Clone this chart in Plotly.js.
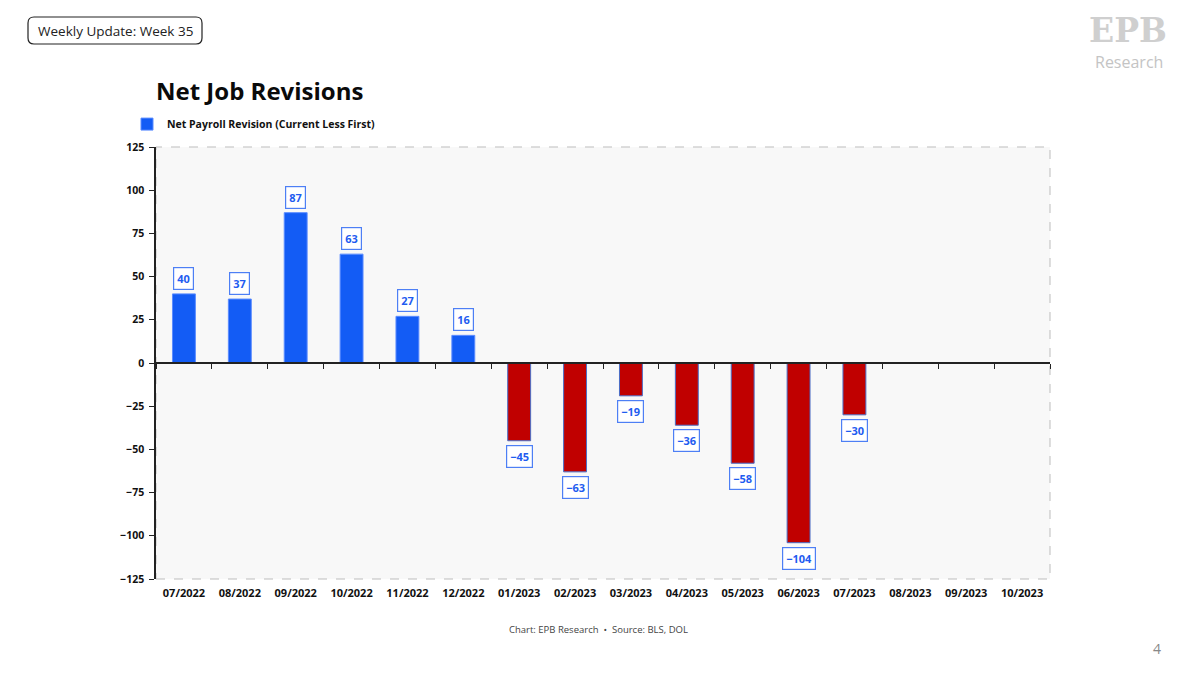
<!DOCTYPE html>
<html>
<head>
<meta charset="utf-8">
<script src="https://cdn.plot.ly/plotly-3.0.1.min.js"></script>
<style>html,body{margin:0;padding:0;background:#fff;}#chart{width:1200px;height:673px;}</style>
</head>
<body>
<div id="chart"></div>
<script>
const months = ["07/2022","08/2022","09/2022","10/2022","11/2022","12/2022","01/2023","02/2023","03/2023","04/2023","05/2023","06/2023","07/2023","08/2023","09/2023","10/2023"];
const revisions = [40, 37, 87, 63, 27, 16, -45, -63, -19, -36, -58, -104, -30, null, null, null];
const yTicks = [125, 100, 75, 50, 25, 0, -25, -50, -75, -100, -125];
const seriesName = "Net Payroll Revision (Current Less First)";

const FONT = "'Open Sans', 'DejaVu Sans', sans-serif";
const BLUE = "#135cf5";
const RED = "#c00000";
const LABEL_BLUE = "#1f5cf0";

const barColors = revisions.map(v => (v !== null && v < 0) ? RED : BLUE);
const barLines = revisions.map(v => (v !== null && v < 0) ? "#4a6fc8" : "#5b8cff");

const bars = {
  type: "bar",
  x: months,
  y: revisions,
  name: seriesName,
  marker: {color: barColors, line: {color: barLines, width: 1}},
  width: 0.41,
  hoverinfo: "x+y",
  showlegend: true
};

// invisible trace to carry the zero-line category axis ticks
const axisCarrier = {
  type: "scatter",
  mode: "markers",
  x: months,
  y: months.map(() => 0),
  xaxis: "x2",
  yaxis: "y",
  marker: {opacity: 0, size: 1},
  hoverinfo: "skip",
  showlegend: false
};

const valueLabels = months.map((m, i) => {
  const v = revisions[i];
  if (v === null) return null;
  const pos = v >= 0;
  return {
    x: m, y: v, xref: "x", yref: "y",
    text: "<b>" + (v < 0 ? "\u2212" + Math.abs(v) : v) + "</b>",
    showarrow: false,
    yanchor: pos ? "bottom" : "top",
    yshift: pos ? 4 : -4,
    font: {family: FONT, size: 11, color: LABEL_BLUE},
    bgcolor: "#ffffff",
    bordercolor: "#4d7ff5",
    borderwidth: 1.2,
    borderpad: 3
  };
}).filter(a => a !== null);

// helper for rounded box in paper coords (style only)
function roundedRect(px0, py0, px1, py1, r) {
  const L = 156, T = 147, W = 894, H = 432;
  const X = p => (p - L) / W;
  const Y = p => (T + H - p) / H;
  const rx = r / W, ry = r / H;
  const x0 = X(px0), x1 = X(px1), y0 = Y(py0), y1 = Y(py1);
  return `M ${x0 + rx},${y0} L ${x1 - rx},${y0} Q ${x1},${y0} ${x1},${y0 - ry} L ${x1},${y1 + ry} Q ${x1},${y1} ${x1 - rx},${y1} L ${x0 + rx},${y1} Q ${x0},${y1} ${x0},${y1 + ry} L ${x0},${y0 - ry} Q ${x0},${y0} ${x0 + rx},${y0} Z`;
}

const layout = {
  width: 1200, height: 673,
  margin: {l: 156, r: 150, t: 147, b: 94},
  paper_bgcolor: "#ffffff",
  plot_bgcolor: "#f8f8f8",
  font: {family: FONT, color: "#111"},
  title: {
    text: "<b>Net Job Revisions</b>",
    font: {family: FONT, size: 24, color: "#0a0a0a"},
    x: 0, xref: "paper", xanchor: "left",
    y: 1 - 92 / 673, yref: "container", yanchor: "middle"
  },
  showlegend: true,
  legend: {
    x: -29 / 894, y: 1.053, xanchor: "left", yanchor: "middle",
    orientation: "h",
    font: {family: FONT, size: 10.5, color: "#111", weight: 700},
    itemwidth: 30,
    bgcolor: "rgba(0,0,0,0)"
  },
  xaxis: {
    type: "category",
    categoryorder: "array",
    categoryarray: months,
    range: [-0.5, 15.5],
    showline: false,
    showgrid: false,
    zeroline: false,
    ticks: "",
    tickfont: {family: FONT, size: 11, color: "#111", weight: 700},
    ticklabelstandoff: 6,
    fixedrange: true
  },
  xaxis2: {
    type: "category",
    categoryorder: "array",
    categoryarray: months,
    range: [-0.5, 15.5],
    overlaying: "x",
    anchor: "free",
    position: 0.5,
    side: "bottom",
    showline: true,
    linecolor: "#222",
    linewidth: 1.5,
    ticks: "outside",
    tickson: "boundaries",
    ticklen: 5,
    tickcolor: "#222",
    tickwidth: 1,
    showticklabels: false,
    showgrid: false,
    zeroline: false,
    fixedrange: true
  },
  yaxis: {
    range: [-125, 125],
    tickvals: yTicks,
    ticktext: yTicks.map(v => v < 0 ? "\u2212" + Math.abs(v) : String(v)),
    showline: true,
    linecolor: "#222",
    linewidth: 1.5,
    ticks: "outside",
    ticklen: 5,
    tickcolor: "#222",
    showgrid: false,
    zeroline: false,
    tickfont: {family: FONT, size: 10.5, color: "#111", weight: 700},
    ticklabelstandoff: 3,
    fixedrange: true
  },
  bargap: 0.59,
  shapes: [
    {type: "rect", xref: "paper", yref: "paper", x0: 0, x1: 1, y0: 0, y1: 1,
     line: {color: "#bdbdbd", width: 1, dash: "dash"}, fillcolor: "rgba(0,0,0,0)", layer: "below"},
    {type: "path", xref: "paper", yref: "paper", path: roundedRect(28, 17, 202, 44, 6),
     line: {color: "#222", width: 1.2}, fillcolor: "#ffffff"}
  ],
  annotations: valueLabels.concat([
    {xref: "paper", yref: "paper", x: (115 - 156) / 894, y: (579 - 30.5) / 432,
     text: "Weekly Update: Week 35", showarrow: false, xanchor: "center", yanchor: "middle",
     font: {family: FONT, size: 13.5, color: "#222"}},
    {xref: "paper", yref: "paper", x: (1128 - 156) / 894, y: (579 - 31) / 432,
     text: "<b>EPB</b>", showarrow: false, xanchor: "center", yanchor: "middle",
     font: {family: "'DejaVu Serif', serif", size: 33, color: "#cfcfcf"}},
    {xref: "paper", yref: "paper", x: (1129 - 156) / 894, y: (579 - 62) / 432,
     text: "Research", showarrow: false, xanchor: "center", yanchor: "middle",
     font: {family: FONT, size: 16, color: "#c4c4c4"}},
    {xref: "paper", yref: "paper", x: (598 - 156) / 894, y: (579 - 629) / 432,
     text: "Chart: EPB Research  \u2022  Source: BLS, DOL", showarrow: false, xanchor: "center", yanchor: "middle",
     font: {family: FONT, size: 9.5, color: "#444"}},
    {xref: "paper", yref: "paper", x: (1157 - 156) / 894, y: (579 - 648) / 432,
     text: "4", showarrow: false, xanchor: "center", yanchor: "middle",
     font: {family: FONT, size: 14, color: "#888"}}
  ])
};

Plotly.newPlot("chart", [bars, axisCarrier], layout, {displayModeBar: false, staticPlot: false});
</script>
</body>
</html>
